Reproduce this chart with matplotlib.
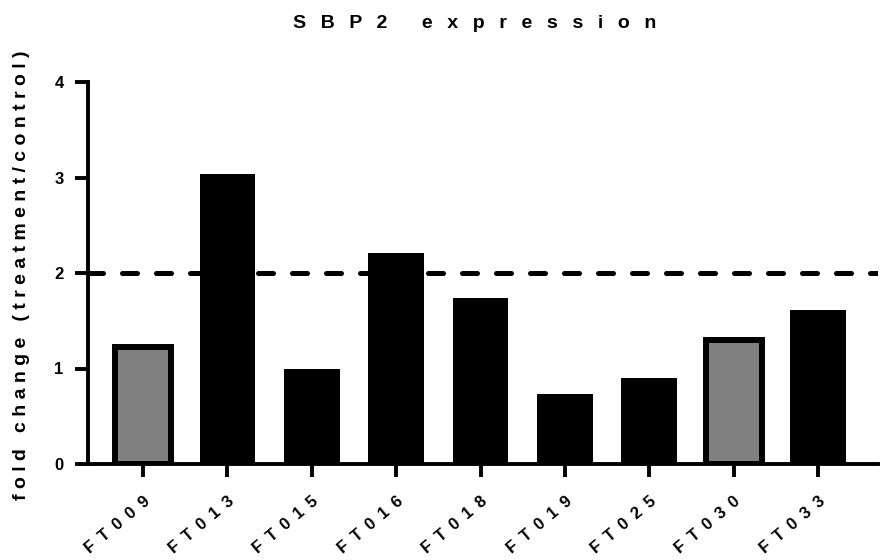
import matplotlib
matplotlib.use("Agg")
import matplotlib.pyplot as plt

categories = ["FT009", "FT013", "FT015", "FT016", "FT018", "FT019", "FT025", "FT030", "FT033"]
values = [1.22, 3.04, 1.00, 2.21, 1.74, 0.73, 0.90, 1.30, 1.61]
highlight = [True, False, False, False, False, False, False, True, False]
threshold = 2
yticks = [0, 1, 2, 3, 4]
title = "SBP2 expression"
ylabel = "fold change (treatment/control)"


def spaced(s, sep):
    return sep.join(s)


plt.rcParams["font.family"] = ["Liberation Sans", "DejaVu Sans"]
plt.rcParams["font.weight"] = "bold"

fig = plt.figure(figsize=(8.82, 5.6), dpi=100)
ax = fig.add_axes([88 / 882, 1 - 464 / 560, (878 - 88) / 882, (464 - 82) / 560])

x = list(range(len(categories)))
for xi, v, h in zip(x, values, highlight):
    if h:
        ax.bar(xi, v, width=0.66, color="#808080", edgecolor="black", linewidth=4.3, zorder=2)
    else:
        ax.bar(xi, v, width=0.66, color="black", edgecolor="black", linewidth=0, zorder=2)

ax.axhline(threshold, color="black", linewidth=3.6, linestyle=(0, (3.0, 3.8)),
           dash_capstyle="round", zorder=3)

ax.set_xlim(-0.652, 8.71)
ax.set_ylim(0, 4)
ax.set_yticks(yticks)
ax.set_yticklabels([str(t) for t in yticks], fontsize=12, fontweight="bold")
ax.set_xticks(x)
ax.set_xticklabels([spaced(c, " \u2009") for c in categories], rotation=40, ha="right",
                   rotation_mode="anchor", fontsize=12, fontweight="bold")

for s in ["top", "right"]:
    ax.spines[s].set_visible(False)
for s in ["left", "bottom"]:
    ax.spines[s].set_linewidth(2.8)
    ax.spines[s].set_capstyle("projecting")
ax.tick_params(axis="both", width=2.8, length=9.5, direction="out")
ax.tick_params(axis="y", pad=8)
ax.tick_params(axis="x", pad=12)

fig.text(22 / 882, 1 - 275 / 560, spaced(ylabel, " "), fontsize=14, fontweight="bold",
         rotation=90, ha="center", va="center")
fig.text(475 / 882, 1 - 24 / 560, spaced(title, "  \u2009"), fontsize=14, fontweight="bold",
         ha="center", va="center")

fig.savefig("out.png", dpi=100)
